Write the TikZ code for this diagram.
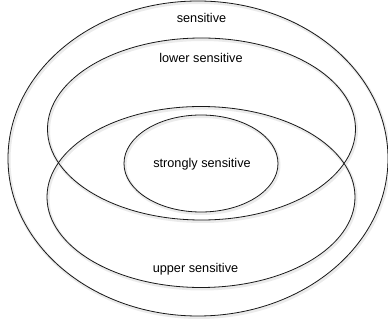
\documentclass[tikz,border=0pt]{standalone}
\usepackage{fontspec}
\setmainfont{Liberation Sans}
\begin{document}
\begin{tikzpicture}[x=1pt,y=1pt,
  ring/.style={draw=black!90,line width=0.8pt},
  shade/.style={draw=black!8,line width=3pt},
  lbl/.style={font=\fontsize{12.7}{15}\selectfont,anchor=base,inner sep=0pt}]
\useasboundingbox (0,0) rectangle (388,324);
% soft shadows
\draw[shade] (199,164) ellipse [x radius=190,y radius=157.5];
\draw[shade] (202.5,193.5) ellipse [x radius=154,y radius=91];
\draw[shade] (202,125.5) ellipse [x radius=154,y radius=90.5];
\draw[shade] (202,159) ellipse [x radius=77,y radius=48.5];
% rings
\draw[ring] (198,165.5) ellipse [x radius=190,y radius=157.5];
\draw[ring] (201.5,195) ellipse [x radius=154,y radius=91];
\draw[ring] (201,127) ellipse [x radius=154,y radius=90.5];
\draw[ring] (201,160.5) ellipse [x radius=77,y radius=48.5];
\node[lbl] (s) at (201.5,301) {sensitive};
\node[lbl] (ls) at (201,261) {lower sensitive};
\node[lbl] (ss) at (202,156) {strongly sensitive};
\node[lbl] (us) at (195.5,52) {upper sensitive};
\end{tikzpicture}
\end{document}
